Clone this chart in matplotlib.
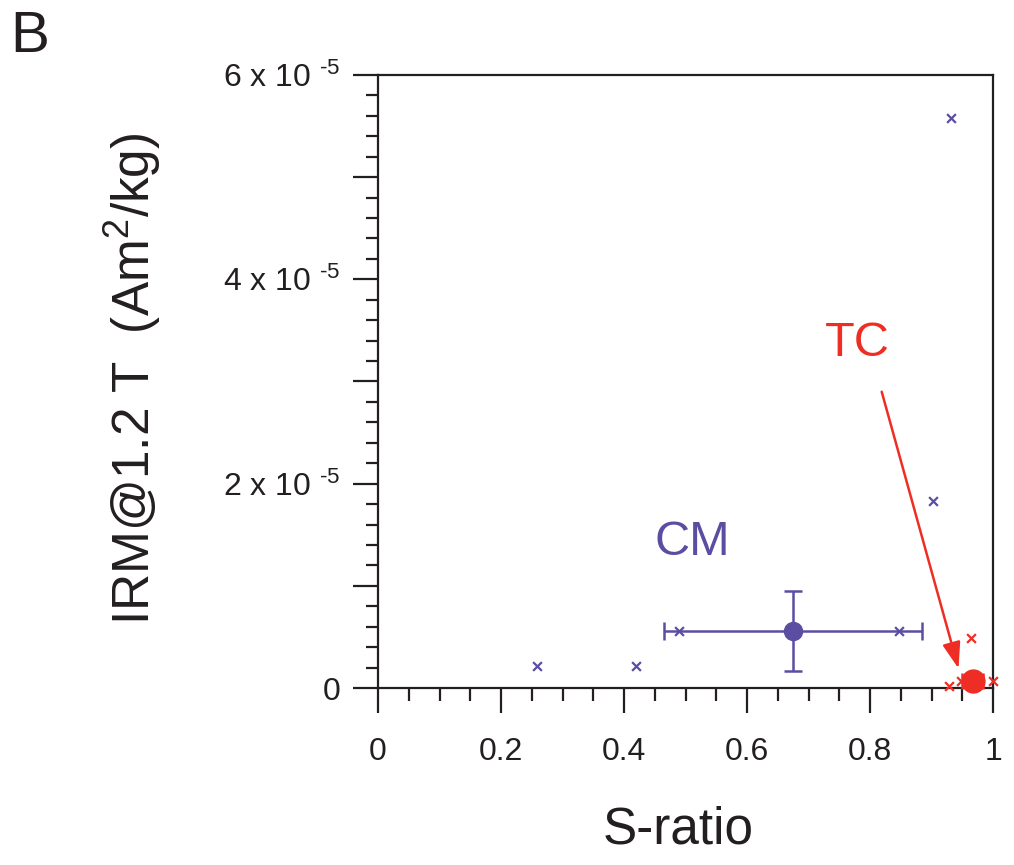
import matplotlib
matplotlib.use("Agg")
import matplotlib.pyplot as plt
from matplotlib.ticker import MultipleLocator, FuncFormatter

plt.rcParams["font.family"] = ["Liberation Sans", "DejaVu Sans"]
plt.rcParams["mathtext.fontset"] = "custom"
plt.rcParams["mathtext.rm"] = "Liberation Sans"
plt.rcParams["mathtext.it"] = "Liberation Sans"

BLUE = "#5b4ea2"
RED = "#ee2e24"
INK = "#231f20"

# CM samples (S-ratio, IRM@1.2T)
cm_s = [0.258, 0.419, 0.489, 0.847, 0.902, 0.931]
cm_irm = [2.2e-6, 2.2e-6, 5.6e-6, 5.6e-6, 1.83e-5, 5.58e-5]
cm_mean_s = 0.675
cm_mean_irm = 5.6e-6
cm_err_s = 0.21
cm_err_irm = 3.9e-6

# TC samples
tc_s = [0.928, 0.948, 0.964, 0.978, 1.0]
tc_irm = [2e-7, 7e-7, 4.9e-6, 7e-7, 7e-7]
tc_mean_s = 0.967
tc_mean_irm = 7e-7
tc_err_s = 0.017
tc_err_irm = 3e-7

fig = plt.figure(figsize=(10.14, 8.65), dpi=100)
ax = fig.add_axes([378 / 1014, 1 - 688 / 865, (993 - 378) / 1014, (688 - 75) / 865])

ax.scatter(cm_s, cm_irm, marker="x", s=40, color=BLUE, linewidths=1.6, zorder=3)
ax.errorbar([cm_mean_s], [cm_mean_irm], xerr=[cm_err_s], yerr=[cm_err_irm],
            fmt="o", ms=13, color=BLUE, ecolor=BLUE, elinewidth=1.8,
            capsize=6.5, capthick=1.8, zorder=4)

ax.scatter(tc_s, tc_irm, marker="x", s=40, color=RED, linewidths=1.6, zorder=3,
           clip_on=False)
ax.errorbar([tc_mean_s], [tc_mean_irm], xerr=[tc_err_s], yerr=[tc_err_irm],
            fmt="o", ms=16.5, color=RED, ecolor=RED, elinewidth=1.8,
            capsize=6, capthick=1.8, zorder=4, clip_on=False)

ax.text(0.511, 1.42e-5, "CM", color=BLUE, fontsize=35, ha="center", va="center")
ax.text(0.78, 3.37e-5, "TC", color=RED, fontsize=35, ha="center", va="center")
ax.annotate("", xy=(0.944, 1.9e-6), xytext=(0.819, 2.9e-5),
            arrowprops=dict(arrowstyle="-|>,head_length=1.6,head_width=0.55",
                            color=RED, lw=1.8, shrinkA=0, shrinkB=0))

ax.set_xlim(0, 1)
ax.set_ylim(0, 6e-5)


def xlab(v, p):
    if abs(v) < 1e-9:
        return "0"
    if abs(v - 1) < 1e-9:
        return "1"
    return f"{v:.1f}"


def ylab(v, p):
    n = round(v * 1e5)
    if n == 0:
        return "0"
    if n % 2:
        return ""
    return f"{n} x 10 $^{{\\text{{-5}}}}$"


ax.xaxis.set_major_locator(MultipleLocator(0.2))
ax.xaxis.set_minor_locator(MultipleLocator(0.05))
ax.xaxis.set_major_formatter(FuncFormatter(xlab))
ax.yaxis.set_major_locator(MultipleLocator(1e-5))
ax.yaxis.set_minor_locator(MultipleLocator(2e-6))
ax.yaxis.set_major_formatter(FuncFormatter(ylab))

ax.tick_params(axis="both", which="major", direction="out", length=18, width=1.6,
               color=INK, labelsize=23, labelcolor=INK)
ax.tick_params(axis="both", which="minor", direction="out", length=9, width=1.6,
               color=INK)
ax.tick_params(axis="x", which="major", pad=17)
ax.tick_params(axis="y", which="major", pad=9)
ax.tick_params(top=False, right=False, which="both")

for sp in ax.spines.values():
    sp.set_linewidth(1.6)
    sp.set_color(INK)

ax.set_xlabel("S-ratio", fontsize=37, color=INK)
ax.xaxis.set_label_coords(0.488, -0.191)
ax.set_ylabel("IRM@1.2 T  (Am$^2$/kg)", fontsize=37, color=INK)
ax.yaxis.set_label_coords(-0.35, 0.505)

fig.text(10 / 1014, 1 - 52 / 865, "B", fontsize=42, color=INK, ha="left", va="baseline")

fig.savefig("out.png", dpi=100)
